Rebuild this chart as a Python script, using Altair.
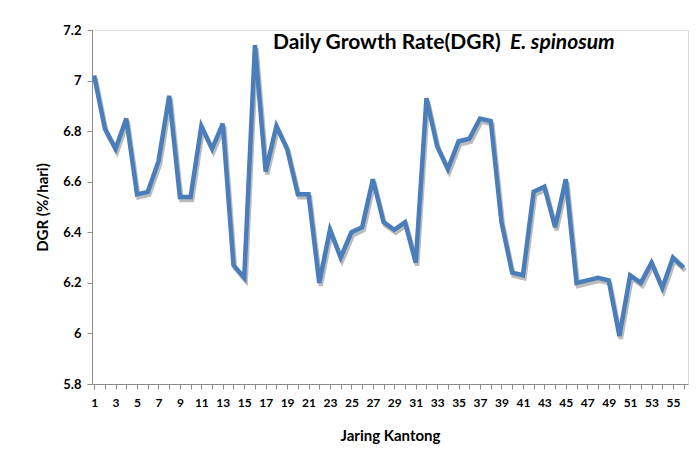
import altair as alt
import pandas as pd

kantong = list(range(1, 57))
dgr = [7.02, 6.81, 6.73, 6.85, 6.55, 6.56, 6.68, 6.94, 6.54, 6.54,
       6.82, 6.73, 6.83, 6.27, 6.22, 7.14, 6.64, 6.82, 6.73, 6.55,
       6.55, 6.20, 6.41, 6.30, 6.40, 6.42, 6.61, 6.44, 6.41, 6.44,
       6.28, 6.93, 6.74, 6.65, 6.76, 6.77, 6.85, 6.84, 6.44, 6.24,
       6.23, 6.56, 6.58, 6.42, 6.61, 6.20, 6.21, 6.22, 6.21, 5.99,
       6.23, 6.20, 6.28, 6.18, 6.30, 6.26]

df = pd.DataFrame({"kantong": kantong, "dgr": dgr})

FONT = "Lato"
AX = "#8c8c8c"

x_enc = alt.X("kantong:Q",
              scale=alt.Scale(domain=[0.8, 56.4], nice=False, zero=False),
              axis=alt.Axis(title="Jaring Kantong", values=kantong,
                            labelExpr="datum.value % 2 == 1 ? datum.value : ''",
                            grid=False, domainColor=AX, tickColor=AX, tickSize=5,
                            labelFont=FONT, labelFontSize=12, labelFontWeight="bold",
                            labelColor="#000000",
                            labelPadding=8, labelFlush=False, labelOverlap=False,
                            titleFont=FONT, titleFontSize=15, titleFontWeight="bold",
                            titleColor="#000000", titlePadding=20))
y_enc = alt.Y("dgr:Q",
              scale=alt.Scale(domain=[5.8, 7.2], nice=False, zero=False),
              axis=alt.Axis(title="DGR (%/hari)", values=[5.8, 6, 6.2, 6.4, 6.6, 6.8, 7, 7.2],
                            format=".1~f", grid=False, domainColor=AX, tickColor=AX, tickSize=5,
                            labelFont=FONT, labelFontSize=13, labelFontWeight="bold",
                            labelColor="#000000", labelPadding=6,
                            titleFont=FONT, titleFontSize=15, titleFontWeight="bold",
                            titleColor="#000000", titlePadding=12))

shadow = alt.Chart(df).mark_line(color="#555555", opacity=0.4, strokeWidth=4.5,
                                 xOffset=1.5, yOffset=3).encode(x=x_enc, y=y_enc)
line = alt.Chart(df).mark_line(color="#4a7ebb", strokeWidth=4.5,
                               strokeJoin="miter").encode(x=x_enc, y=y_enc)

title1 = alt.Chart(pd.DataFrame({"t": ["Daily Growth Rate(DGR)"]})).mark_text(
    font=FONT, fontSize=21, fontWeight="bold", align="left", baseline="middle", color="#000000"
).encode(x=alt.value(181), y=alt.value(13), text="t:N")
title2 = alt.Chart(pd.DataFrame({"t": ["E.  spinosum"]})).mark_text(
    font=FONT, fontSize=21, fontWeight="bold", fontStyle="italic", align="left",
    baseline="middle", color="#000000"
).encode(x=alt.value(418), y=alt.value(13), text="t:N")

chart = alt.layer(shadow, line, title1, title2).properties(
    width=596, height=354,
    autosize=alt.AutoSizeParams(type="none"),
    padding={"left": 84, "top": 22, "right": 1, "bottom": 71},
).configure_view(stroke=None).configure(background="#ffffff")

chart.save("out.html", embed_options={"renderer": "svg", "actions": False})
